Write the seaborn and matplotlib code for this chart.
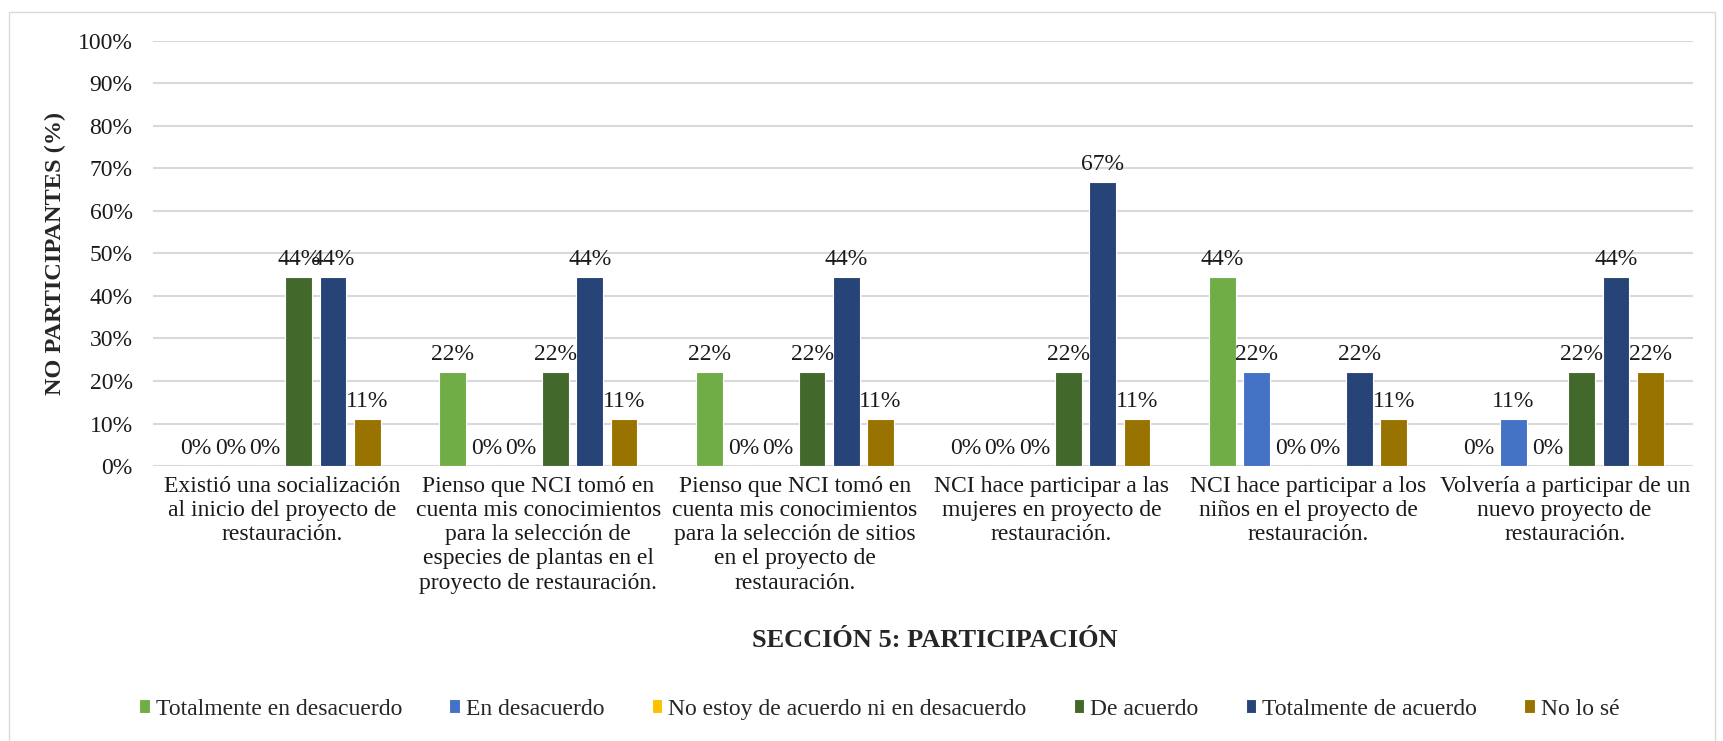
import pandas as pd
import matplotlib.pyplot as plt
import seaborn as sns
from matplotlib.patches import Rectangle
from matplotlib.ticker import PercentFormatter

categories = [
    "Existió una socialización\nal inicio del proyecto de\nrestauración.",
    "Pienso que NCI tomó en\ncuenta mis conocimientos\npara la selección de\nespecies de plantas en el\nproyecto de restauración.",
    "Pienso que NCI tomó en\ncuenta mis conocimientos\npara la selección de sitios\nen el proyecto de\nrestauración.",
    "NCI hace participar a las\nmujeres en proyecto de\nrestauración.",
    "NCI hace participar a los\nniños en el proyecto de\nrestauración.",
    "Volvería a participar de un\nnuevo proyecto de\nrestauración.",
]
series = ["Totalmente en desacuerdo", "En desacuerdo",
          "No estoy de acuerdo ni en desacuerdo", "De acuerdo",
          "Totalmente de acuerdo", "No lo sé"]
colors = ["#70AD47", "#4472C4", "#FFC000", "#43682B", "#264478", "#997300"]

tot_desacuerdo = [0, 22.2, 22.2, 0, 44.4, 0]
en_desacuerdo = [0, 0, 0, 0, 22.2, 11.1]
neutral = [0, 0, 0, 0, 0, 0]
de_acuerdo = [44.4, 22.2, 22.2, 22.2, 0, 22.2]
tot_acuerdo = [44.4, 44.4, 44.4, 66.7, 22.2, 44.4]
no_se = [11.1, 11.1, 11.1, 11.1, 11.1, 22.2]

values = [tot_desacuerdo, en_desacuerdo, neutral, de_acuerdo, tot_acuerdo, no_se]
rows = []
for s, vals in zip(series, values):
    for c, v in zip(categories, vals):
        rows.append({"Pregunta": c, "Respuesta": s, "Porcentaje": v})
df = pd.DataFrame(rows)

sns.set_theme(style="white")
plt.rcParams['font.family'] = ['Liberation Serif', 'DejaVu Serif']

fig = plt.figure(figsize=(17.24, 7.41), dpi=100)
ax = fig.add_axes([0.089, 0.371, 0.893, 0.574])

sns.barplot(data=df, x="Pregunta", y="Porcentaje", hue="Respuesta",
            order=categories, hue_order=series, palette=colors,
            width=0.8, gap=0.22, edgecolor="white", linewidth=0.8,
            saturation=1, ax=ax)

for cont in ax.containers:
    ax.bar_label(cont, fmt="%.0f%%", padding=5, fontsize=17, color="#1a1a1a")

ax.set_ylim(0, 100)
ax.set_yticks(range(0, 101, 10))
ax.yaxis.set_major_formatter(PercentFormatter(decimals=0))
ax.grid(axis="y", color="#D9D9D9", linewidth=1.5)
ax.set_axisbelow(True)
sns.despine(ax=ax, left=True, bottom=True, top=True, right=True)
ax.tick_params(axis="both", length=0, labelsize=17, colors="#1a1a1a")
ax.tick_params(axis="x", pad=7)
ax.tick_params(axis="y", pad=15)
ax.set_xlabel("")
ax.set_ylabel("NO PARTICIPANTES (%)", fontsize=17.5, fontweight="bold")
ax.yaxis.set_label_coords(-0.057, 0.5)

fig.text(0.542, 0.136, "SECCIÓN 5: PARTICIPACIÓN", fontsize=19,
         fontweight="bold", ha="center", va="center")

handles, labels = ax.get_legend_handles_labels()
ax.legend_.remove()
fig.legend(handles, labels, loc="center", bbox_to_anchor=(0.51, 0.043),
           ncol=6, frameon=False, fontsize=17, handlelength=0.45,
           handleheight=0.55, handletextpad=0.25, columnspacing=2.0)

fig.patches.append(Rectangle((0.005, -0.01), 0.99, 0.994, transform=fig.transFigure,
                             fill=False, edgecolor="#D9D9D9", linewidth=1))

fig.savefig("out.png", dpi=100)
